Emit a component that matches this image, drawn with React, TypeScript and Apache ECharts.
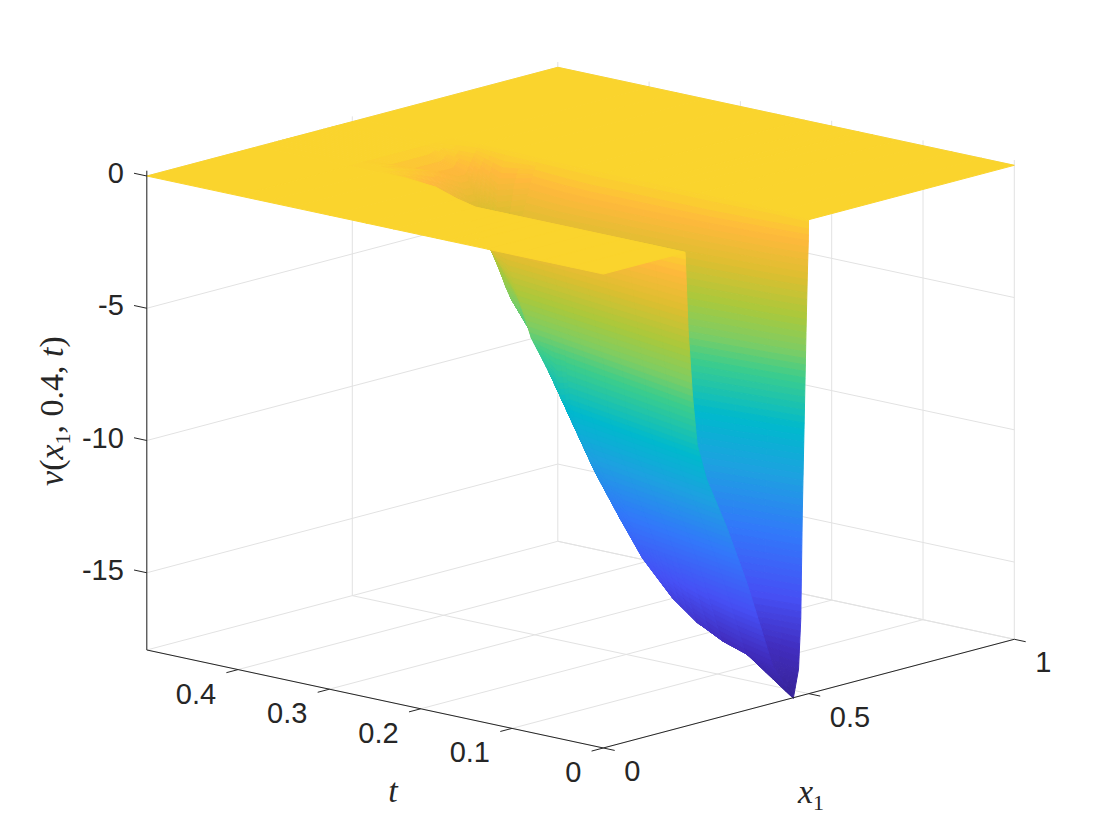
import React, { useEffect, useRef } from "react";
import * as echarts from "echarts";

// ---------- data ----------
const tRows = [0, 0.036, 0.068, 0.1, 0.127, 0.155, 0.17, 0.1825, 0.2, 0.23, 0.26, 0.3, 0.34, 0.37, 0.4, 0.5];
const x1Rows = [
  [0, .199, .2015, .2065, .217, .2285, .2513, .3, .349, .412, .4623, .475, .4805, .4842, .489, .4935, .4965, .4988, .4991, .4993, .4995, 1],
  [0, .2, .2087, .2195, .2357, .2472, .27, .3187, .3677, .429, .429, .462, .4715, .4752, .48, .4845, .4875, .4898, .4945, .502, .507, 1],
  [0, .2, .2151, .231, .2524, .2639, .2867, .3354, .3844, .442, .442, .455, .4635, .4672, .472, .4795, .4825, .485, .4895, .5, .51, 1],
  [0, .2, .2215, .2425, .269, .2805, .3033, .352, .401, .45, .45, .452, .4555, .4592, .464, .4745, .4775, .48, .486, .498, .51, 1],
  [0, .2, .2269, .2522, .283, .2945, .3173, .366, .415, .451, .451, .452, .4535, .4545, .4573, .47, .475, .478, .486, .498, .51, 1],
  [0, .2, .2325, .2623, .2976, .3091, .3319, .3806, .4296, .44, .44, .445, .447, .449, .4515, .464, .472, .476, .486, .498, .51, 1],
  [0, .2, .2355, .2677, .3054, .3169, .3397, .3884, .418, .418, .418, .435, .44, .442, .446, .46, .471, .475, .486, .498, .51, 1],
  [0, .2, .238, .2722, .3119, .3234, .3459, .385, .385, .385, .385, .423, .427, .43, .435, .455, .47, .475, .486, .498, .51, 1],
  [0, .2, .2415, .2785, .321, .345, .345, .345, .345, .345, .345, .41, .414, .418, .422, .45, .47, .475, .486, .498, .51, 1],
  [0, .2, .2475, .2893, .336, .38, .38, .38, .38, .38, .38, .4, .405, .41, .415, .44, .468, .474, .485, .497, .51, 1],
  [0, .222, .26, .33, .405, .409, .409, .409, .409, .409, .409, .42, .424, .428, .432, .445, .465, .478, .49, .5, .512, 1],
  [0, .258, .33, .4, .43, .443, .443, .443, .443, .443, .443, .45, .452, .454, .456, .458, .47, .49, .5, .505, .515, 1],
  [0, .272, .36, .45, .49, .49, .49, .49, .49, .49, .49, .491, .492, .493, .494, .495, .496, .5, .51, .516, .52, 1],
  [0, .272, .33, .4, .47, .47, .47, .47, .47, .47, .47, .475, .478, .481, .484, .487, .49, .5, .51, .516, .52, 1],
  [0, .272, .3, .31, .32, .33, .34, .35, .36, .37, .38, .39, .4, .41, .42, .43, .44, .45, .46, .48, .52, 1],
  [0, .272, .3, .31, .32, .33, .34, .35, .36, .37, .38, .39, .4, .41, .42, .43, .44, .45, .46, .48, .52, 1],
];
const zRows = [
  [0, 0, -1, -3, -5.5, -7.4, -8.8, -10.8, -13.1, -16.5, -17.94, -16.9, -15, -11, -7.4, -4, -2, -.8, -.35, -.1, 0, 0],
  [0, 0, -1, -3, -5.5, -7.4, -8.8, -10.8, -13.1, -16.4, -16.4, -16.6, -15, -11, -7.4, -4, -2, -.8, -.35, -.1, 0, 0],
  [0, 0, -1, -3, -5.5, -7.4, -8.8, -10.8, -13.1, -16.2, -16.2, -16.3, -15, -11, -7.4, -4, -2, -.8, -.35, -.1, 0, 0],
  [0, 0, -1, -3, -5.5, -7.4, -8.8, -10.8, -13.1, -15.75, -15.75, -15.8, -15, -11, -7.4, -4, -2, -.8, -.35, -.1, 0, 0],
  [0, 0, -1, -3, -5.5, -7.4, -8.8, -10.8, -13.1, -15.05, -15.05, -15.05, -15, -11, -7.4, -4, -2, -.8, -.35, -.1, 0, 0],
  [0, 0, -1, -3, -5.5, -7.4, -8.8, -10.8, -13.1, -13.7, -13.7, -13.7, -13.7, -11, -7.4, -4, -2, -.8, -.35, -.1, 0, 0],
  [0, 0, -1, -3, -5.5, -7.4, -8.8, -10.8, -12.2, -12.2, -12.2, -12.2, -12.2, -11, -7.4, -4, -2, -.8, -.35, -.1, 0, 0],
  [0, 0, -1, -3, -5.5, -7.4, -8.8, -10.4, -10.4, -10.4, -10.4, -10.4, -10.4, -10.4, -7.4, -4, -2, -.8, -.35, -.1, 0, 0],
  [0, 0, -1, -3, -5.5, -7.7, -7.7, -7.7, -7.7, -7.7, -7.7, -7.7, -7.7, -7.7, -7.7, -4, -2, -.8, -.35, -.1, 0, 0],
  [0, 0, -1, -3, -5.5, -7, -7, -7, -7, -7, -7, -7, -7, -7, -7, -4, -2, -.8, -.35, -.1, 0, 0],
  [0, 0, -1, -3, -5.5, -6, -6, -6, -6, -6, -6, -6, -6, -6, -6, -4, -2, -.8, -.35, -.1, 0, 0],
  [0, 0, -1, -3, -4.5, -5, -5, -5, -5, -5, -5, -5, -5, -5, -5, -4, -2, -.8, -.35, -.1, 0, 0],
  [0, 0, -1, -2.5, -3.8, -3.8, -3.8, -3.8, -3.8, -3.8, -3.8, -3.8, -3.8, -3.8, -3.8, -3.8, -2.5, -1.2, -.6, -.15, 0, 0],
  [0, 0, -.2, -.5, -1, -1, -1, -1, -1, -1, -1, -1, -1, -1, -1, -1, -.9, -.6, -.3, -.1, 0, 0],
  [0, 0, 0, 0, 0, 0, 0, 0, 0, 0, 0, 0, 0, 0, 0, 0, 0, 0, 0, 0, 0, 0],
  [0, 0, 0, 0, 0, 0, 0, 0, 0, 0, 0, 0, 0, 0, 0, 0, 0, 0, 0, 0, 0, 0],
];
const x1Ticks = [0, 0.5, 1];
const tTicks = [0, 0.1, 0.2, 0.3, 0.4];
const zTicks = [0, -5, -10, -15];
const x1TickLabels = ["0", "0.5", "1"];
const tTickLabels = ["0", "0.1", "0.2", "0.3", "0.4"];
const zTickLabels = ["0", "-5", "-10", "-15"];
const colorZ = [0, -0.8, -2.2, -3.7, -5, -6, -7.9, -9.8, -12, -14.3, -16.2, -17.95];
const colorRGB = [
  [250, 212, 45], [255, 185, 60], [222, 190, 48], [170, 200, 60], [125, 205, 100], [60, 205, 140],
  [0, 185, 205], [30, 160, 225], [50, 120, 250], [70, 80, 245], [65, 45, 190], [55, 35, 150],
];

// ---------- view ----------
const X1_MAX = 1, T_MAX = 0.5, Z_MIN = -17.92, Z_TOP = 0.2;
const project = (x1: number, t: number, z: number): number[] => [
  603.3 + 411 * x1 - 913 * t,
  274 - 108.7 * x1 - 196 * t - 26.45 * z,
];
const colorOf = (z: number): string => {
  let i = 0;
  while (i < colorZ.length - 2 && z < colorZ[i + 1]) i++;
  const f = Math.min(1, Math.max(0, (colorZ[i] - z) / (colorZ[i] - colorZ[i + 1])));
  const c = colorRGB[i].map((v, k) => Math.round(v + (colorRGB[i + 1][k] - v) * f));
  return `rgb(${c[0]},${c[1]},${c[2]})`;
};

const INK = "#262626";
const GRID = "#e2e2e2";
const SANS = "'Liberation Sans', Arial, sans-serif";
const SERIF = "'Liberation Serif', serif";

type Seg = number[][];
const gridSegs: Seg[] = [];
for (const z of zTicks) {
  gridSegs.push([[0, T_MAX, z], [X1_MAX, T_MAX, z]]);
  gridSegs.push([[X1_MAX, 0, z], [X1_MAX, T_MAX, z]]);
}
for (const x of x1Ticks) {
  gridSegs.push([[x, 0, Z_MIN], [x, T_MAX, Z_MIN]]);
  gridSegs.push([[x, T_MAX, Z_MIN], [x, T_MAX, Z_TOP]]);
}
for (const t of tTicks) {
  gridSegs.push([[0, t, Z_MIN], [X1_MAX, t, Z_MIN]]);
  gridSegs.push([[X1_MAX, t, Z_MIN], [X1_MAX, t, Z_TOP]]);
}
gridSegs.push([[0, T_MAX, Z_MIN], [X1_MAX, T_MAX, Z_MIN]]);
gridSegs.push([[X1_MAX, 0, Z_MIN], [X1_MAX, T_MAX, Z_MIN]]);

const axisSegs: Seg[] = [
  [[0, 0, Z_MIN], [0, T_MAX, Z_MIN]],
  [[0, 0, Z_MIN], [X1_MAX, 0, Z_MIN]],
  [[0, T_MAX, Z_MIN], [0, T_MAX, Z_TOP]],
];
for (const z of zTicks) axisSegs.push([[0, T_MAX, z], [0, T_MAX + 0.014, z]]);
for (const t of tTicks) axisSegs.push([[0, t, Z_MIN], [-0.0285, t, Z_MIN]]);
for (const x of x1Ticks) axisSegs.push([[x, 0, Z_MIN], [x, -0.0125, Z_MIN]]);

// painter's order: far rows first, far columns first
const cells: number[][] = [];
for (let r = tRows.length - 2; r >= 0; r--) {
  for (let c = x1Rows[0].length - 2; c >= 0; c--) cells.push([r, c]);
}

const segItem = (api: any, s: Seg, color: string, width: number) => {
  const a = api.coord(project(s[0][0], s[0][1], s[0][2]));
  const b = api.coord(project(s[1][0], s[1][1], s[1][2]));
  return {
    type: "line",
    shape: { x1: a[0], y1: a[1], x2: b[0], y2: b[1] },
    style: { stroke: color, lineWidth: width, fill: "none" },
    silent: true,
  };
};

const STEP = 0.25;
const renderCell = (params: any, api: any) => {
  const [r, c] = cells[params.dataIndex];
  const r0 = r + 1, r1 = r, c0 = c + 1, c1 = c; // far to near
  const zf = [zRows[r0][c0], zRows[r0][c1], zRows[r1][c0], zRows[r1][c1]];
  const xf = [x1Rows[r0][c0], x1Rows[r0][c1], x1Rows[r1][c0], x1Rows[r1][c1]];
  const nu = Math.min(24, Math.max(1, Math.ceil(Math.max(Math.abs(zf[0] - zf[1]), Math.abs(zf[2] - zf[3])) / STEP)));
  const nv = Math.min(24, Math.max(1, Math.ceil(Math.max(Math.abs(zf[0] - zf[2]), Math.abs(zf[1] - zf[3])) / STEP)));
  const at = (u: number, v: number) => {
    const bl = (q: number[]) => (q[0] * (1 - u) + q[1] * u) * (1 - v) + (q[2] * (1 - u) + q[3] * u) * v;
    const t = tRows[r0] * (1 - v) + tRows[r1] * v;
    return [bl(xf), t, bl(zf)];
  };
  const children: any[] = [];
  for (let j = 0; j < nv; j++) {
    for (let i = 0; i < nu; i++) {
      const u0 = i / nu, u1 = (i + 1) / nu, v0 = j / nv, v1 = (j + 1) / nv;
      const corners = [at(u0, v0), at(u1, v0), at(u1, v1), at(u0, v1)];
      const pts = corners.map((p) => api.coord(project(p[0], p[1], p[2])));
      const col = colorOf(at((u0 + u1) / 2, (v0 + v1) / 2)[2]);
      children.push({
        type: "polygon",
        shape: { points: pts },
        style: { fill: col, stroke: col, lineWidth: 1, lineJoin: "round" },
        silent: true,
      });
    }
  }
  return { type: "group", children };
};

const tickText = (api: any, pos: number[], text: string, align: string) => {
  const p = api.coord(pos);
  return {
    type: "text",
    silent: true,
    style: {
      text, x: p[0], y: p[1], align, verticalAlign: "middle",
      fill: INK, font: `29px ${SANS}`,
    },
  };
};

const mathRich = {
  i: { fontFamily: SERIF, fontStyle: "italic", fontSize: 34, fill: INK, lineHeight: 44, verticalAlign: "middle" },
  n: { fontFamily: SERIF, fontSize: 34, fill: INK, lineHeight: 44, verticalAlign: "middle" },
  s: { fontFamily: SERIF, fontSize: 22, fill: INK, lineHeight: 38, verticalAlign: "bottom" },
};

export default function App() {
  const ref = useRef<HTMLDivElement>(null);
  useEffect(() => {
    const chart = echarts.init(ref.current!, undefined, { renderer: "svg" });
    chart.setOption({
      animation: false,
      backgroundColor: "#ffffff",
      grid: { left: 0, right: 0, top: 0, bottom: 0 },
      xAxis: { type: "value", min: 0, max: 1120, show: false },
      yAxis: { type: "value", min: 0, max: 840, inverse: true, show: false },
      series: [
        {
          type: "custom", coordinateSystem: "cartesian2d", silent: true, clip: false, progressive: 0,
          data: gridSegs.map((_, i) => i),
          renderItem: (p: any, api: any) => segItem(api, gridSegs[p.dataIndex], GRID, 1),
        },
        {
          type: "custom", coordinateSystem: "cartesian2d", silent: true, clip: false, progressive: 0,
          data: cells.map((_, i) => i),
          renderItem: renderCell,
        },
        {
          type: "custom", coordinateSystem: "cartesian2d", silent: true, clip: false, progressive: 0,
          data: axisSegs.map((_, i) => i),
          renderItem: (p: any, api: any) => segItem(api, axisSegs[p.dataIndex], INK, 1),
        },
        {
          type: "custom", coordinateSystem: "cartesian2d", silent: true, clip: false, progressive: 0,
          data: [0],
          renderItem: (_p: any, api: any) => {
            const kids: any[] = [];
            zTicks.forEach((z, i) => {
              const q = project(0, T_MAX, z);
              kids.push(tickText(api, [q[0] - 23, q[1] - 3], zTickLabels[i], "right"));
            });
            tTicks.forEach((t, i) => {
              const q = project(0, t, Z_MIN);
              kids.push(tickText(api, [q[0] - 22, q[1] + 24], tTickLabels[i], "right"));
            });
            x1Ticks.forEach((x, i) => {
              const q = project(x, 0, Z_MIN);
              kids.push(tickText(api, [q[0] + 21, q[1] + 23], x1TickLabels[i], "left"));
            });
            const a = api.coord([393, 790]);
            const b = api.coord([811, 791]);
            const c = api.coord([51, 411]);
            kids.push({
              type: "text", silent: true, x: a[0], y: a[1],
              style: { text: "{i|t}", rich: mathRich, align: "center", verticalAlign: "middle" },
            });
            kids.push({
              type: "text", silent: true, x: b[0], y: b[1],
              style: { text: "{i|x}{s|1}", rich: mathRich, align: "center", verticalAlign: "middle" },
            });
            kids.push({
              type: "text", silent: true, x: c[0], y: c[1], rotation: Math.PI / 2,
              style: {
                text: "{i|v}{n|(}{i|x}{s|1}{n|, 0.4, }{i|t}{n|)}",
                rich: mathRich, align: "center", verticalAlign: "middle",
              },
            });
            return { type: "group", children: kids };
          },
        },
      ],
    });
    return () => chart.dispose();
  }, []);
  return <div ref={ref} style={{ position: "absolute", left: 0, top: 0, width: 1120, height: 840 }} />;
}
